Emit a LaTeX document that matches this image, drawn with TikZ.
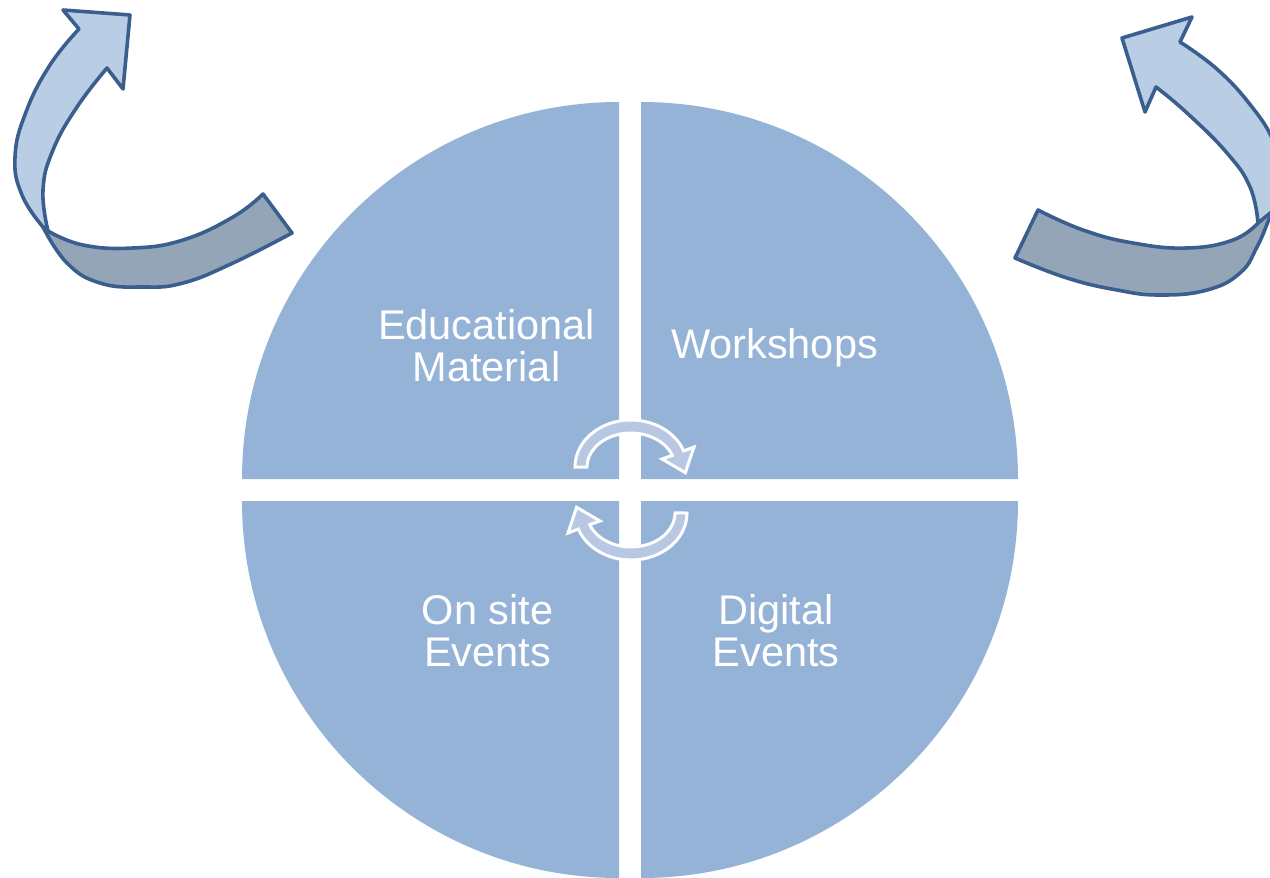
\documentclass[tikz,border=0pt]{standalone}
\usepackage{fontspec}
\setmainfont{Liberation Sans}
\definecolor{quadfill}{HTML}{95B3D7}
\definecolor{arrowedge}{HTML}{3A5F8E}
\definecolor{lightfill}{HTML}{B9CDE5}
\definecolor{darkfill}{HTML}{94A5B8}
\definecolor{cyclefill}{HTML}{B8C7E2}
\begin{document}
\begin{tikzpicture}[x=1pt,y=-1pt,
  quadrant/.style={fill=quadfill},
  lbl/.style={text=white, font=\fontsize{41.5}{42}\selectfont, align=center, inner sep=0pt, anchor=base},
  bigarrow/.style={draw=arrowedge, line width=3.6pt, line join=round},
  cyclearrow/.style={fill=cyclefill, draw=white, line width=3pt, line join=miter}]
\useasboundingbox (0,0) rectangle (1270,878);
\clip (0,0) rectangle (1270,878);
% quadrants
\fill[quadrant] (619,479) -- (242,479) arc[start angle=180, end angle=270, radius=377] -- cycle;
\fill[quadrant] (641,479) -- (641,102) arc[start angle=270, end angle=360, radius=377] -- cycle;
\fill[quadrant] (619,501) -- (619,878) arc[start angle=90, end angle=180, radius=377] -- cycle;
\fill[quadrant] (641,501) -- (1018,501) arc[start angle=0, end angle=90, radius=377] -- cycle;
% labels (base = baseline of last line)
\node[lbl] (edu) at (486.5,381) {Educational\\Material};
\node[lbl] (work) at (774.5,358) {Workshops};
\node[lbl] (onsite) at (487.5,666) {On site\\Events};
\node[lbl] (digital) at (776,666) {Digital\\Events};
% central cycle arrows
\filldraw[cyclearrow] (575,467) arc[start angle=180, end angle=340, x radius=56, y radius=47]
  -- (694,447) -- (685.4,472.7) -- (662,459) -- (672.3,455.4)
  arc[start angle=340, end angle=180, x radius=44, y radius=34] -- cycle;
\begin{scope}[rotate around={180:(631,490)}]
\filldraw[cyclearrow] (575,467) arc[start angle=180, end angle=340, x radius=56, y radius=47]
  -- (694,447) -- (685.4,472.7) -- (662,459) -- (672.3,455.4)
  arc[start angle=340, end angle=180, x radius=44, y radius=34] -- cycle;
\end{scope}
% left big arrow
\filldraw[bigarrow, fill=darkfill] plot[smooth, tension=0.75] coordinates {(48,231) (83,245) (133,248) (183,240) (233,217) (263,194)}
  -- (292,233) -- plot[smooth, tension=0.75] coordinates {(292,233) (233,263) (183,283) (143,287) (100,283) (67,263) (43,227)} -- cycle;
\filldraw[bigarrow, fill=lightfill] plot[smooth, tension=0.75] coordinates {(43,227) (22,195) (15,157) (26,112) (50,65) (79,29)}
  -- (63,10) -- (130,15) -- (123,89) -- (107,68)
  -- plot[smooth, tension=0.75] coordinates {(107,68) (77,107) (53,150) (43,190) (48,231)} -- cycle;
% right big arrow
\filldraw[bigarrow, fill=darkfill] plot[smooth, tension=0.75] coordinates {(1038,210) (1083,230) (1133,243) (1187,248) (1233,240) (1258,223)}
  -- (1280,195) -- plot[smooth, tension=0.75] coordinates {(1280,195) (1270,217) (1257,247) (1240,273) (1207,290) (1160,295) (1117,290) (1067,278) (1015,258)} -- cycle;
\filldraw[bigarrow, fill=lightfill] plot[smooth, tension=0.75] coordinates {(1258,223) (1250,187) (1227,153) (1187,113) (1156,87)}
  -- (1145,112) -- (1122,38) -- (1192,17) -- (1180,42)
  -- plot[smooth, tension=0.75] coordinates {(1180,42) (1218,70) (1252,107) (1274,142) (1286,180) (1280,205)} -- cycle;
\end{tikzpicture}
\end{document}
